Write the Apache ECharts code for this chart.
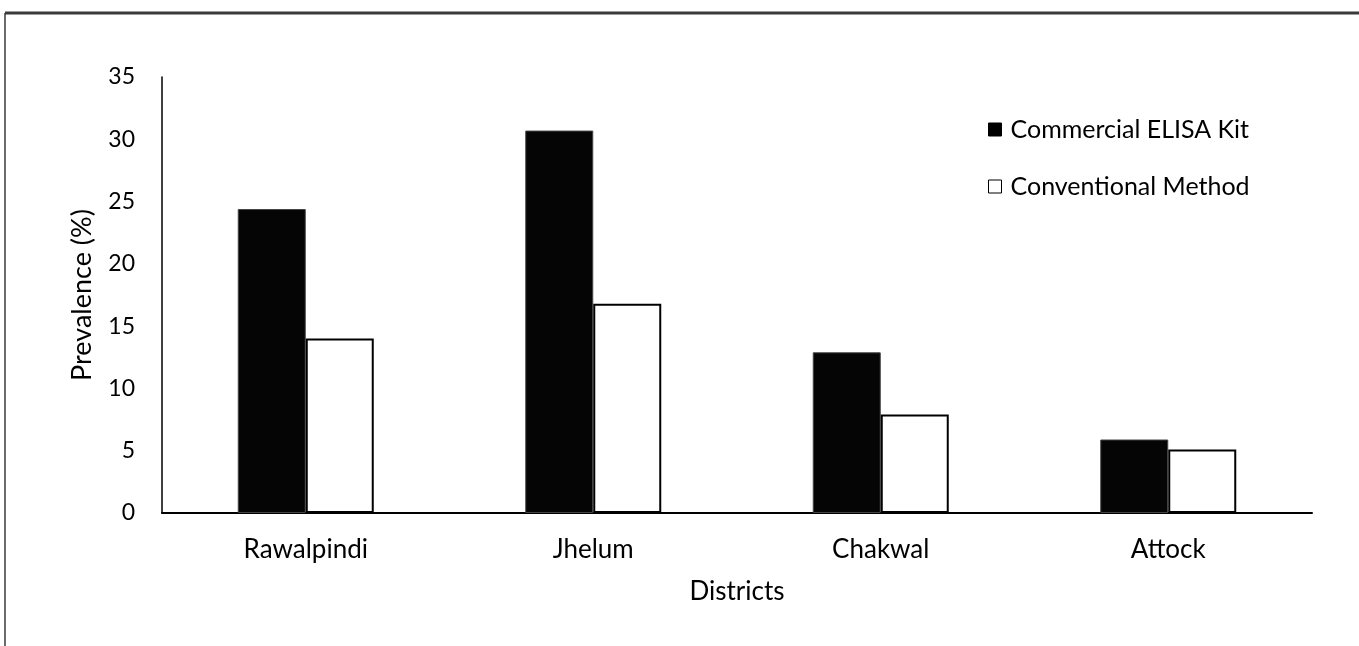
<!DOCTYPE html>
<html>
<head>
<meta charset="utf-8">
<script src="https://cdn.jsdelivr.net/npm/echarts@6/dist/echarts.min.js"></script>
<style>
  html, body { margin: 0; padding: 0; background: #fff; }
  #chart { width: 1359px; height: 646px; }
</style>
</head>
<body>
<div id="chart"></div>
<script>
// District prevalence data
const districts = ['Rawalpindi', 'Jhelum', 'Chakwal', 'Attock'];
const elisaKit = [24.4, 30.7, 12.9, 5.9];
const conventional = [14.0, 16.8, 7.9, 5.1];
const seriesNames = ['Commercial ELISA Kit', 'Conventional Method'];

const FONT = 'Lato';

const chart = echarts.init(document.getElementById('chart'), null, { renderer: 'canvas' });

chart.setOption({
  backgroundColor: '#fff',
  animation: false,
  textStyle: { fontFamily: FONT, color: '#000' },
  graphic: [
    // outer frame (top and left edges)
    { type: 'line', shape: { x1: 5, y1: 13, x2: 1359, y2: 13 }, style: { stroke: '#3a3a3a', lineWidth: 3 } },
    { type: 'line', shape: { x1: 5, y1: 13, x2: 5, y2: 646 }, style: { stroke: '#3a3a3a', lineWidth: 1.5 } }
  ],
  legend: {
    orient: 'vertical',
    left: 983,
    top: 112,
    itemGap: 32,
    itemWidth: 13,
    itemHeight: 13,
    icon: 'rect',
    textStyle: { fontFamily: FONT, fontSize: 25, color: '#000', padding: [0, 0, 0, 4] },
    data: [
      { name: seriesNames[0], itemStyle: { color: '#000', borderColor: '#000', borderWidth: 1 } },
      { name: seriesNames[1], itemStyle: { color: '#fff', borderColor: '#000', borderWidth: 1 } }
    ]
  },
  grid: { left: 162, right: 47, top: 77, bottom: 133, containLabel: false },
  xAxis: {
    type: 'category',
    data: districts,
    name: 'Districts',
    nameLocation: 'middle',
    nameGap: 66,
    nameTextStyle: { fontFamily: FONT, fontSize: 26, color: '#000' },
    axisLine: { lineStyle: { color: '#000', width: 2 } },
    axisTick: { show: false },
    axisLabel: { fontFamily: FONT, fontSize: 26, color: '#000', margin: 24 }
  },
  yAxis: {
    type: 'value',
    min: 0,
    max: 35,
    interval: 5,
    name: 'Prevalence (%)',
    nameLocation: 'middle',
    nameGap: 66,
    nameTextStyle: { fontFamily: FONT, fontSize: 27, color: '#000' },
    axisLine: { show: true, lineStyle: { color: '#000', width: 1.5 } },
    axisTick: { show: false },
    splitLine: { show: false },
    axisLabel: { fontFamily: FONT, fontSize: 23, color: '#000', margin: 27 }
  },
  series: [
    {
      name: seriesNames[0],
      type: 'bar',
      data: elisaKit,
      barWidth: 68,
      barGap: '0%',
      itemStyle: { color: '#050505', borderColor: '#444', borderWidth: 1 }
    },
    {
      name: seriesNames[1],
      type: 'bar',
      data: conventional,
      barWidth: 68,
      barGap: '0%',
      itemStyle: { color: '#fff', borderColor: '#000', borderWidth: 2 }
    }
  ]
});
</script>
</body>
</html>
